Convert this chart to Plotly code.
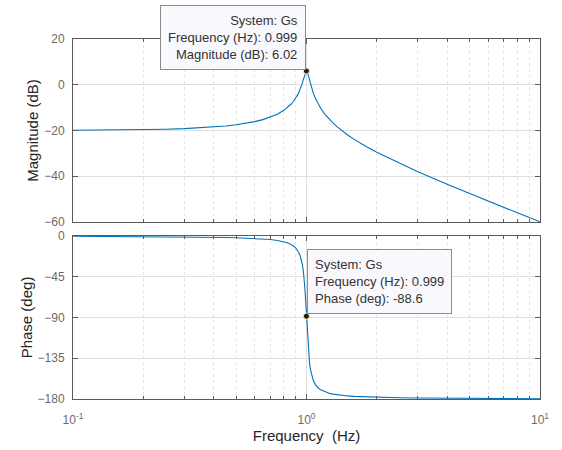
import plotly.graph_objects as go

freq_hz = [0.1, 0.15, 0.2, 0.25, 0.3, 0.35, 0.4, 0.45, 0.5, 0.55, 0.6, 0.65, 0.7, 0.75, 0.8,
           0.82, 0.85, 0.86, 0.88, 0.89, 0.9, 0.91, 0.92, 0.93, 0.94, 0.95, 0.96, 0.97, 0.975,
           0.98, 0.985, 0.99, 0.995, 0.997, 0.999, 1.002, 1.005, 1.01, 1.015, 1.02, 1.03,
           1.04, 1.05, 1.06, 1.07, 1.09, 1.1, 1.12, 1.15, 1.2, 1.25, 1.3, 1.35, 1.4, 1.5, 1.6,
           1.7, 1.8, 2, 2.5, 3, 4, 5, 6, 7, 8, 10]
mag_db = [-19.91, -19.80, -19.65, -19.44, -19.18, -18.87, -18.49, -18.04, -17.51, -16.88,
          -16.13, -15.24, -14.17, -12.85, -11.18, -10.37, -8.97, -8.43, -7.23, -6.55, -5.81,
          -5.00, -4.10, -3.10, -1.97, -0.70, 0.73, 2.33, 3.17, 4.01, 4.80, 5.46, 5.89, 5.98,
          6.02, 5.98, 5.81, 5.30, 4.57, 3.73, 1.97, 0.29, -1.23, -2.57, -3.78, -5.84, -6.73,
          -8.32, -10.31, -12.95, -15.06, -16.82, -18.33, -19.67, -21.95, -23.87, -25.54,
          -27.01, -29.55, -34.41, -38.06, -43.52, -47.60, -50.88, -53.63, -55.99, -59.91]
phase_deg = [-0.29, -0.44, -0.60, -0.76, -0.94, -1.14, -1.36, -1.62, -1.91, -2.26, -2.68,
             -3.22, -3.93, -4.90, -6.34, -7.13, -8.71, -9.38, -11.04, -12.08, -13.32, -14.83,
             -16.67, -18.99, -22.0, -25.97, -31.48, -39.37, -44.63, -51.06, -58.84, -68.1,
             -78.66, -83.1, -88.6, -94.6, -101.3, -111.7, -120.8, -128.4, -139.8, -147.5,
             -152.9, -156.8, -159.7, -163.8, -165.3, -167.6, -169.9, -172.2, -173.7, -174.6,
             -175.3, -175.8, -176.6, -177.1, -177.4, -177.7, -178.1, -178.6, -178.9, -179.2,
             -179.4, -179.5, -179.6, -179.6, -179.7]

tip_index = freq_hz.index(0.999)
system_name = "Gs"

mag_ticks = [-60, -40, -20, 0, 20]
phase_ticks = [-180, -135, -90, -45, 0]
x_ticks = [0.1, 1, 10]
x_ticktext = ["10<sup>-1</sup>", "10<sup>0</sup>", "10<sup>1</sup>"]
x_minor = [m * d for d in (0.1, 1) for m in range(2, 10)]

line_color = "#0072BD"
axis_color = "#5a5a5a"
tick_font = dict(family="Liberation Sans, Arial", size=12, color="#6a6a6a")
title_font = dict(family="Liberation Sans, Arial", size=15, color="#262626")
grid_major = "#e0e0e0"
grid_minor = "#e4e4e4"

fig = go.Figure()
fig.add_trace(go.Scatter(x=freq_hz, y=mag_db, mode="lines",
                         line=dict(color=line_color, width=1.1),
                         xaxis="x", yaxis="y", hoverinfo="skip"))
fig.add_trace(go.Scatter(x=freq_hz, y=phase_deg, mode="lines",
                         line=dict(color=line_color, width=1.1),
                         xaxis="x2", yaxis="y2", hoverinfo="skip"))
fig.add_trace(go.Scatter(x=[freq_hz[tip_index]], y=[mag_db[tip_index]], mode="markers",
                         marker=dict(color="#1a1a1a", size=6, line=dict(color="#f5f0a0", width=1)),
                         xaxis="x", yaxis="y", hoverinfo="skip"))
fig.add_trace(go.Scatter(x=[freq_hz[tip_index]], y=[phase_deg[tip_index]], mode="markers",
                         marker=dict(color="#1a1a1a", size=6, line=dict(color="#f5f0a0", width=1)),
                         xaxis="x2", yaxis="y2", hoverinfo="skip"))

xcommon = dict(type="log", range=[-1, 1], showline=True, linecolor=axis_color, linewidth=1,
               mirror="ticks", ticks="inside", ticklen=5, tickcolor=axis_color,
               tickvals=x_ticks, ticktext=x_ticktext, automargin=False,
               showgrid=True, gridcolor=grid_major, gridwidth=1, zeroline=False,
               minor=dict(tickvals=x_minor, ticks="inside", ticklen=3, tickcolor=axis_color,
                          showgrid=True, gridcolor=grid_minor, griddash="dot", gridwidth=1),
               tickfont=tick_font)
ycommon = dict(showline=True, linecolor=axis_color, linewidth=1, mirror="ticks",
               ticks="inside", ticklen=5, tickcolor=axis_color, showgrid=True,
               gridcolor=grid_major, gridwidth=1, zeroline=False, tickfont=tick_font,
               automargin=False, ticklabelstandoff=5, title_font=title_font, title_standoff=1)

fig.update_layout(
    width=562, height=450,
    margin=dict(l=73, r=22, t=39, b=51),
    paper_bgcolor="white", plot_bgcolor="white",
    showlegend=False,
    xaxis=dict(**xcommon, anchor="y", showticklabels=False, matches="x2"),
    xaxis2=dict(**xcommon, anchor="y2", ticklabelstandoff=10,
                title=dict(text="Frequency  (Hz)", font=title_font, standoff=4)),
    yaxis=dict(**ycommon, domain=[0.4917, 1.0], range=[-60, 20], tickvals=mag_ticks,
               title_text="Magnitude (dB)"),
    yaxis2=dict(**ycommon, domain=[0.0, 0.4528], range=[-180, 0], tickvals=phase_ticks,
                title_text="Phase (deg)"),
)

tip_font = dict(family="Liberation Sans, Arial", size=13, color="#333333")
fig.add_annotation(
    x=0, y=mag_db[tip_index], xref="x", yref="y",
    text=(f"System: {system_name}<br>Frequency (Hz): {freq_hz[tip_index]:.3f}"
          f"<br>Magnitude (dB): {mag_db[tip_index]:.2f}"),
    showarrow=False, xanchor="right", yanchor="bottom", align="right",
    xshift=-1, yshift=1,
    bgcolor="#f8f8fd", bordercolor="#8c8c8c", borderwidth=1, borderpad=7, font=tip_font)
fig.add_annotation(
    x=-0.000434, y=phase_deg[tip_index], xref="x2", yref="y2",
    text=(f"System: {system_name}<br>Frequency (Hz): {freq_hz[tip_index]:.3f}"
          f"<br>Phase (deg): {phase_deg[tip_index]:.1f}"),
    showarrow=False, xanchor="left", yanchor="bottom", align="left",
    xshift=1, yshift=2,
    bgcolor="#f8f8fd", bordercolor="#8c8c8c", borderwidth=1, borderpad=7, font=tip_font)

fig.write_html("out.html")
